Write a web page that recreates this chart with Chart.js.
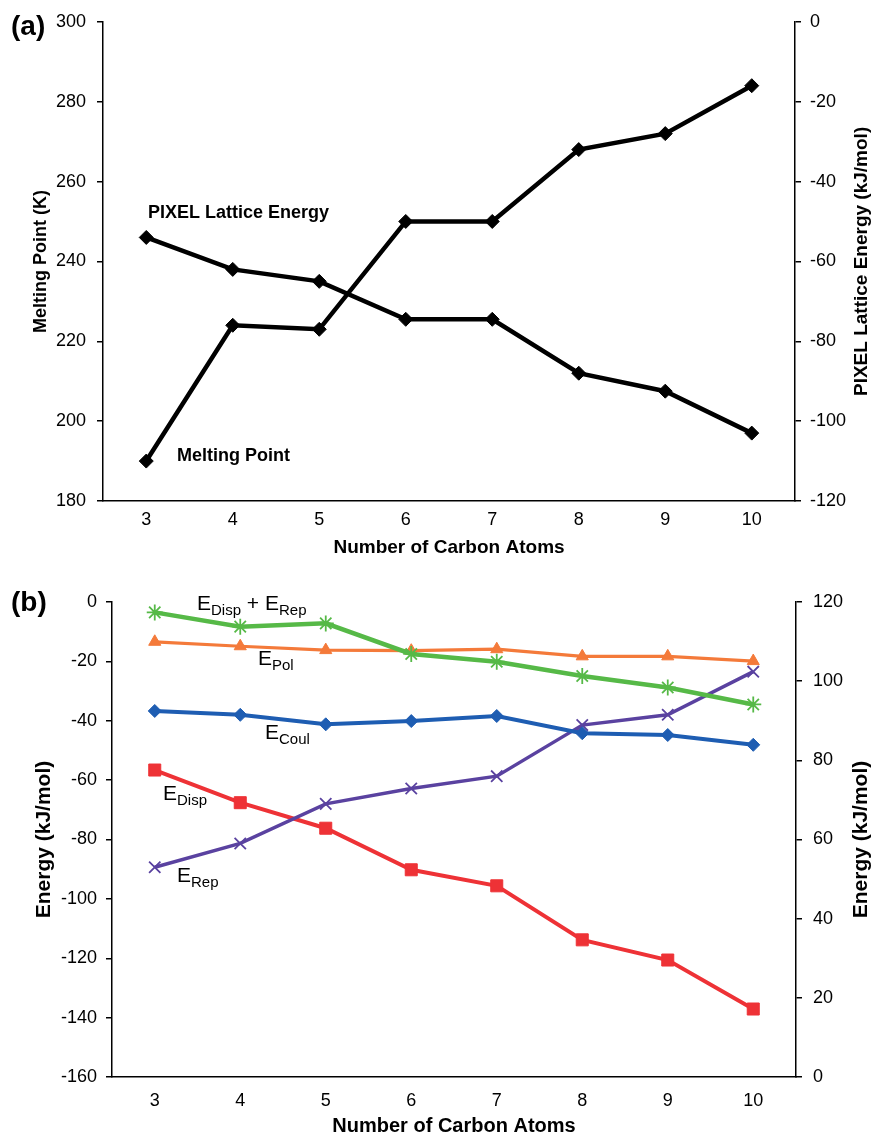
<!DOCTYPE html>
<html>
<head>
<meta charset="utf-8">
<script src="https://cdn.jsdelivr.net/npm/chart.js@4.4.0/dist/chart.umd.min.js"></script>
<style>
  html, body { margin: 0; padding: 0; background: #fff; }
  #wrap { position: relative; width: 874px; height: 1137px; }
  #top { position: absolute; left: 0; top: 0; }
  #bot { position: absolute; left: 0; top: 560px; }
</style>
</head>
<body>
<div id="wrap">
  <canvas id="top" width="874" height="560"></canvas>
  <canvas id="bot" width="874" height="577"></canvas>
</div>
<script>
// data
const carbonAtoms = ["3", "4", "5", "6", "7", "8", "9", "10"];
const meltingPoint = [190, 224, 223, 250, 250, 268, 272, 284];        // K
const pixelLattice = [-54, -62, -65, -74.5, -74.5, -88, -92.5, -103]; // kJ/mol
const eCoul = [-36.7, -38.0, -41.2, -40.1, -38.4, -44.2, -44.8, -48.1];
const ePol = [-13.4, -14.9, -16.2, -16.4, -15.9, -18.3, -18.3, -19.9];
const eDisp = [-56.6, -67.6, -76.2, -90.2, -95.6, -113.8, -120.6, -137.1];
const eRep = [53.0, 59.0, 69.0, 72.9, 76.0, 88.9, 91.5, 102.4];
const eDispRep = [-3.5, -8.3, -7.2, -17.5, -20.1, -24.9, -28.8, -34.5];

const FONT = "'Liberation Sans', Arial, Helvetica, sans-serif";

Chart.defaults.font.family = FONT;
Chart.defaults.color = "#000";
Chart.defaults.animation = false;

// draw "E" + subscript style labels
function richText(ctx, x, y, parts, size) {
  let cx = x;
  ctx.textAlign = "left";
  ctx.textBaseline = "alphabetic";
  parts.forEach(([t, sub]) => {
    const s = sub ? Math.round(size * 0.7) : size;
    ctx.font = `${s}px ${FONT}`;
    ctx.fillText(t, cx, sub ? y + 5 : y);
    cx += ctx.measureText(t).width;
  });
}

function vText(ctx, text, x, y, font) {
  ctx.save();
  ctx.translate(x, y);
  ctx.rotate(-Math.PI / 2);
  ctx.font = font;
  ctx.textAlign = "center";
  ctx.textBaseline = "middle";
  ctx.fillText(text, 0, 0);
  ctx.restore();
}

function yAxis(pos, min, max, width, pad) {
  return {
    position: pos,
    min: min,
    max: max,
    afterFit: (s) => { s.width = width; },
    grid: { drawOnChartArea: false, drawTicks: true, tickLength: 6, color: "#000", lineWidth: 1.5 },
    border: { color: "#000", width: 1.5 },
    ticks: { stepSize: 20, padding: pad, font: { size: 18 }, color: "#000" },
  };
}

function xAxis(height, pad) {
  return {
    offset: true,
    afterFit: (s) => { s.height = height; },
    grid: { drawOnChartArea: false, drawTicks: false, color: "#000" },
    border: { color: "#000", width: 1.5 },
    ticks: { padding: pad, font: { size: 18 }, color: "#000", maxRotation: 0 },
  };
}

const topLabels = {
  id: "topLabels",
  afterDraw(chart) {
    const ctx = chart.ctx;
    const a = chart.chartArea;
    ctx.save();
    ctx.fillStyle = "#000";
    ctx.font = `bold 28px ${FONT}`;
    ctx.textAlign = "left";
    ctx.textBaseline = "alphabetic";
    ctx.fillText("(a)", 11, 35);
    ctx.font = `bold 18px ${FONT}`;
    ctx.fillText("PIXEL Lattice Energy", 148, 218);
    ctx.fillText("Melting Point", 177, 461);
    ctx.font = `bold 19px ${FONT}`;
    ctx.textAlign = "center";
    ctx.textBaseline = "middle";
    ctx.fillText("Number of Carbon Atoms", (a.left + a.right) / 2, 548);
    const cy = (a.top + a.bottom) / 2;
    vText(ctx, "Melting Point (K)", 41, cy, `bold 18px ${FONT}`);
    vText(ctx, "PIXEL Lattice Energy (kJ/mol)", 862, cy, `bold 19px ${FONT}`);
    ctx.restore();
  },
};

const botLabels = {
  id: "botLabels",
  afterDraw(chart) {
    const ctx = chart.ctx;
    const a = chart.chartArea;
    ctx.save();
    ctx.fillStyle = "#000";
    ctx.font = `bold 28px ${FONT}`;
    ctx.textAlign = "left";
    ctx.textBaseline = "alphabetic";
    ctx.fillText("(b)", 11, 51);
    richText(ctx, 197, 50, [["E", false], ["Disp", true], [" + E", false], ["Rep", true]], 21);
    richText(ctx, 258, 105, [["E", false], ["Pol", true]], 21);
    richText(ctx, 265, 179, [["E", false], ["Coul", true]], 21);
    richText(ctx, 163, 240, [["E", false], ["Disp", true]], 21);
    richText(ctx, 177, 322, [["E", false], ["Rep", true]], 21);
    ctx.font = `bold 20px ${FONT}`;
    ctx.textAlign = "center";
    ctx.textBaseline = "middle";
    ctx.fillText("Number of Carbon Atoms", (a.left + a.right) / 2, 566);
    const cy = (a.top + a.bottom) / 2;
    vText(ctx, "Energy (kJ/mol)", 44, cy, `bold 21px ${FONT}`);
    vText(ctx, "Energy (kJ/mol)", 861, cy, `bold 21px ${FONT}`);
    ctx.restore();
  },
};

new Chart(document.getElementById("top").getContext("2d"), {
  type: "line",
  data: {
    labels: carbonAtoms,
    datasets: [
      {
        label: "Melting Point",
        data: meltingPoint,
        yAxisID: "y",
        borderColor: "#000",
        backgroundColor: "#000",
        borderWidth: 4.5,
        pointStyle: "rectRot",
        pointRadius: 7,
        pointBorderWidth: 1,
      },
      {
        label: "PIXEL Lattice Energy",
        data: pixelLattice,
        yAxisID: "y1",
        borderColor: "#000",
        backgroundColor: "#000",
        borderWidth: 4.5,
        pointStyle: "rectRot",
        pointRadius: 7,
        pointBorderWidth: 1,
      },
    ],
  },
  options: {
    responsive: false,
    layout: { padding: { top: 21, left: 0, right: 0, bottom: 0 } },
    plugins: { legend: { display: false }, tooltip: { enabled: false } },
    scales: {
      x: xAxis(59, 8),
      y: yAxis("left", 180, 300, 103, 11),
      y1: yAxis("right", -120, 0, 79, 9),
    },
  },
  plugins: [topLabels],
});

new Chart(document.getElementById("bot").getContext("2d"), {
  type: "line",
  data: {
    labels: carbonAtoms,
    datasets: [
      {
        label: "EDisp + ERep",
        data: eDispRep,
        yAxisID: "y",
        order: 0,
        borderColor: "#56B947",
        backgroundColor: "#56B947",
        borderWidth: 4.5,
        pointStyle: "star",
        pointRadius: 8,
        pointBorderWidth: 1.8,
      },
      {
        label: "EPol",
        data: ePol,
        yAxisID: "y",
        order: 1,
        borderColor: "#F47A3A",
        backgroundColor: "#F47A3A",
        borderWidth: 3.2,
        pointStyle: "triangle",
        pointRadius: 7,
        pointBorderWidth: 1,
      },
      {
        label: "ECoul",
        data: eCoul,
        yAxisID: "y",
        order: 2,
        borderColor: "#1E5DB2",
        backgroundColor: "#1E5DB2",
        borderWidth: 4,
        pointStyle: "rectRot",
        pointRadius: 6.5,
        pointBorderWidth: 1,
      },
      {
        label: "ERep",
        data: eRep,
        yAxisID: "y1",
        order: 3,
        borderColor: "#5A42A0",
        backgroundColor: "#5A42A0",
        borderWidth: 3.5,
        pointStyle: "crossRot",
        pointRadius: 8,
        pointBorderWidth: 1.8,
      },
      {
        label: "EDisp",
        data: eDisp,
        yAxisID: "y",
        order: 4,
        borderColor: "#EE3236",
        backgroundColor: "#EE3236",
        borderWidth: 4,
        pointStyle: "rect",
        pointRadius: 8.5,
        pointBorderWidth: 1,
      },
    ],
  },
  options: {
    responsive: false,
    layout: { padding: { top: 42, left: 0, right: 0, bottom: 0 } },
    plugins: { legend: { display: false }, tooltip: { enabled: false } },
    scales: {
      x: xAxis(60, 13),
      y: yAxis("left", -160, 0, 112, 9),
      y1: yAxis("right", 0, 120, 78, 11),
    },
  },
  plugins: [botLabels],
});
</script>
</body>
</html>
